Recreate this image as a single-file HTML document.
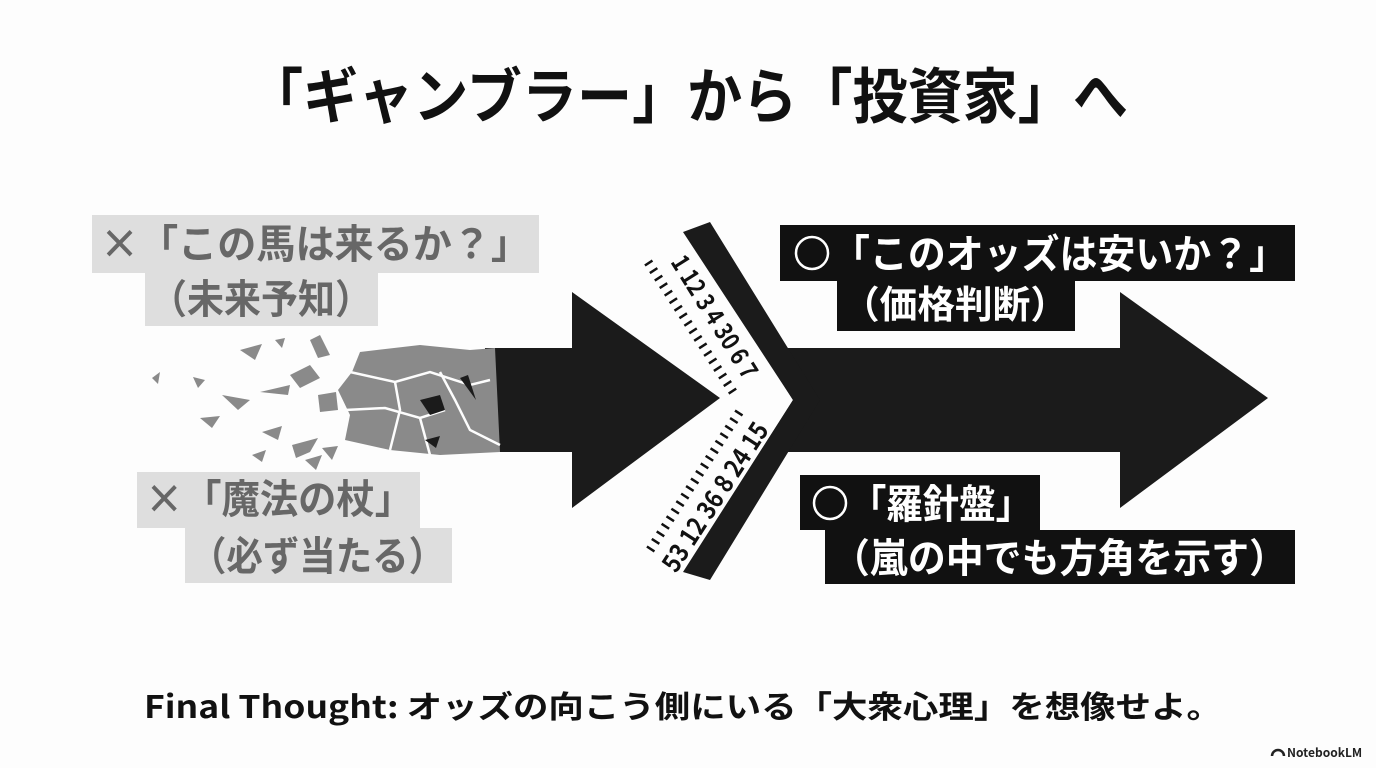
<!DOCTYPE html>
<html><head><meta charset="utf-8"><style>
html,body{margin:0;padding:0;background:#fff;}
svg{display:block;}
text{font-family:"Noto Sans CJK JP","Liberation Sans",sans-serif;font-weight:bold;}
</style></head><body>
<svg width="1376" height="768" viewBox="0 0 1376 768" xmlns="http://www.w3.org/2000/svg">
<rect width="1376" height="768" fill="#fdfdfd"/>
<text x="688" y="118" font-size="60" text-anchor="middle" fill="#111" textLength="880" lengthAdjust="spacingAndGlyphs">「ギャンブラー」から「投資家」へ</text>

<!-- left arrow -->
<polygon points="485,348 572,348 572,292 720,398 572,508 572,452 485,452" fill="#1b1b1b"/>
<!-- shards -->
<polygon points="360,352 420,345 470,350 495,348 500,452 440,455 390,450 345,440 350,415 338,390 352,372" fill="#8a8a8a"/>
<g stroke="#fdfdfd" stroke-width="2.5" fill="none">
<polyline points="350,372 395,382 430,372 470,385 490,380"/>
<polyline points="345,410 385,408 420,418 445,410"/>
<polyline points="395,382 400,410 390,450"/>
<polyline points="440,372 455,400 470,430 500,445"/>
<polyline points="420,418 430,455"/>
</g>
<g fill="#8a8a8a">
<polygon points="310,340 320,335 330,355 318,358"/>
<polygon points="290,375 310,365 320,378 300,388"/>
<polygon points="318,395 336,392 338,410 320,412"/>
<polygon points="260,392 290,385 288,395"/>
<polygon points="222,395 250,400 238,410"/>
<polygon points="262,432 282,426 278,440"/>
<polygon points="292,445 318,438 310,452 296,458"/>
<polygon points="200,418 220,416 212,428"/>
<polygon points="193,377 205,380 198,388"/>
<polygon points="240,350 262,344 255,360"/>
<polygon points="152,378 160,372 158,384"/>
<polygon points="252,455 266,450 262,462"/>
<polygon points="305,460 322,455 316,470"/>
<polygon points="275,340 285,338 282,348"/>
<polygon points="322,448 338,446 332,460"/>
</g>
<g fill="#1b1b1b"><polygon points="420,400 440,395 445,410 430,415"/><polygon points="460,378 468,375 476,400"/><polygon points="425,440 440,436 436,448"/></g>

<!-- right arrow with notch -->
<polygon points="760,348 1120,348 1120,292 1268,398 1120,508 1120,452 760,452 793,400" fill="#1b1b1b"/>
<!-- V ruler band -->
<polygon points="683,232 710,222 820,400 710,580 683,572 793,400" fill="#1b1b1b"/>
<!-- ruler text -->
<text font-size="25" fill="#111" transform="translate(670,262) rotate(58)" textLength="140" lengthAdjust="spacingAndGlyphs">1 12 3 4 30 6 7</text>
<text font-size="26" fill="#111" transform="translate(676,574) rotate(-57)" textLength="172" lengthAdjust="spacingAndGlyphs">53 12 36 8 24 15</text>
<line x1="648" y1="262" x2="735" y2="395" stroke="#111" stroke-width="9" stroke-dasharray="2.5 6.5"/>
<line x1="650" y1="550" x2="742" y2="408" stroke="#111" stroke-width="9" stroke-dasharray="2.5 6.5"/>

<!-- gray boxes -->
<rect x="92" y="215" width="447" height="58" fill="#dedede"/>
<rect x="145" y="273" width="233" height="53" fill="#dedede"/>
<text x="100" y="258" font-size="40" fill="#676767" textLength="430" lengthAdjust="spacingAndGlyphs">×「この馬は来るか？」</text>
<text x="150" y="313" font-size="40" fill="#676767" textLength="222" lengthAdjust="spacingAndGlyphs">（未来予知）</text>
<rect x="137" y="472" width="283" height="56" fill="#dedede"/>
<rect x="185" y="528" width="267" height="55" fill="#dedede"/>
<text x="145" y="513" font-size="40" fill="#676767" textLength="268" lengthAdjust="spacingAndGlyphs">×「魔法の杖」</text>
<text x="190" y="570" font-size="40" fill="#676767" textLength="255" lengthAdjust="spacingAndGlyphs">（必ず当たる）</text>

<!-- black boxes -->
<rect x="780" y="225" width="515" height="56" fill="#111"/>
<rect x="837" y="281" width="238" height="50" fill="#111"/>
<circle cx="812" cy="253" r="16" fill="none" stroke="#fff" stroke-width="2.5"/>
<text x="832" y="268" font-size="40" fill="#fff" textLength="455" lengthAdjust="spacingAndGlyphs">「このオッズは安いか？」</text>
<text x="842" y="318" font-size="38" fill="#fff" textLength="226" lengthAdjust="spacingAndGlyphs">（価格判断）</text>
<rect x="800" y="475" width="240" height="55" fill="#111"/>
<rect x="825" y="530" width="470" height="54" fill="#111"/>
<circle cx="830" cy="503" r="16" fill="none" stroke="#fff" stroke-width="2.5"/>
<text x="850" y="518" font-size="40" fill="#fff" textLength="182" lengthAdjust="spacingAndGlyphs">「羅針盤」</text>
<text x="832" y="572" font-size="40" fill="#fff" textLength="455" lengthAdjust="spacingAndGlyphs">（嵐の中でも方角を示す）</text>

<text x="144" y="718" font-size="31" fill="#111" textLength="1078" lengthAdjust="spacingAndGlyphs">Final Thought: オッズの向こう側にいる「大衆心理」を想像せよ。</text>

<path d="M1272,756 a6,6 0 0 1 12,0" fill="none" stroke="#222" stroke-width="2.5"/>
<text x="1287" y="757" font-size="12" fill="#222">NotebookLM</text>
</svg>
</body></html>
